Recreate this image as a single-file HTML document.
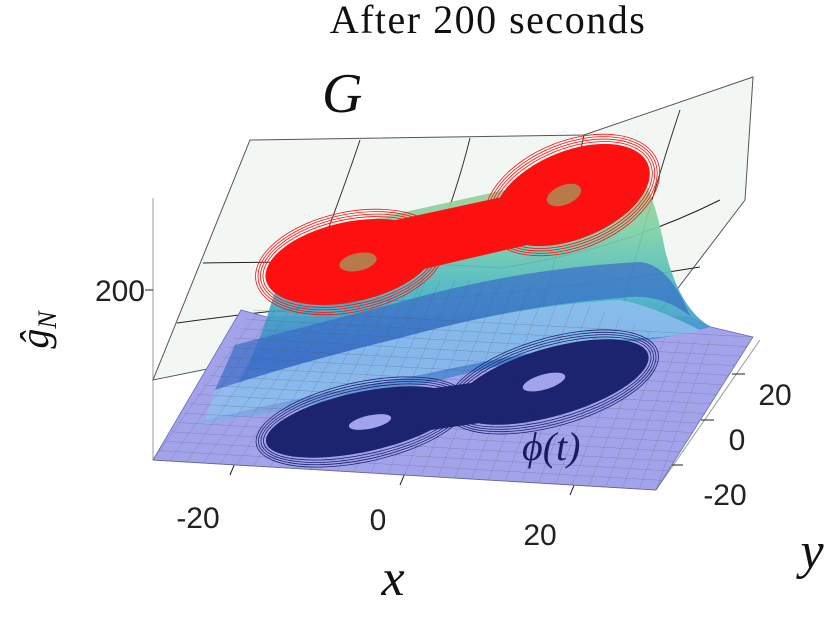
<!DOCTYPE html>
<html><head><meta charset="utf-8">
<style>
html,body{margin:0;padding:0;background:#fff;}
svg{display:block;}
.tick{font-family:"Liberation Sans",sans-serif;font-size:30px;fill:#222;}
.ser{font-family:"Liberation Serif",serif;}
</style></head>
<body>
<svg id="chart" width="830" height="623" viewBox="0 0 830 623">
<defs>
<linearGradient id="hump" x1="0" y1="0" x2="0" y2="1">
<stop offset="0" stop-color="#b5c98a"/>
<stop offset="0.25" stop-color="#7fd2a6"/>
<stop offset="0.5" stop-color="#45b4c4"/>
<stop offset="0.75" stop-color="#3f7fd0"/>
<stop offset="1" stop-color="#8fb0ea"/>
</linearGradient>
</defs>
<text x="488" y="33" text-anchor="middle" class="ser" font-size="40" letter-spacing="1.5" fill="#111">After 200 seconds</text>
<text x="322" y="112" class="ser" font-style="italic" font-size="56" fill="#111">G</text>

<g stroke="#999" stroke-width="1" fill="none">
<line x1="153" y1="198" x2="153" y2="460"/>
<line x1="153" y1="460" x2="656" y2="490"/>
<line x1="656" y1="490" x2="760" y2="340"/>
<line x1="153" y1="290" x2="145" y2="290" stroke="#222"/>
<line x1="230" y1="475" x2="235" y2="463" stroke="#222"/>
<line x1="400" y1="485" x2="405" y2="473" stroke="#222"/>
<line x1="570" y1="495" x2="575" y2="483" stroke="#222"/>
<line x1="732" y1="374" x2="745" y2="374" stroke="#222"/>
<line x1="701" y1="420" x2="714" y2="420" stroke="#222"/>
<line x1="670" y1="465" x2="683" y2="465" stroke="#222"/>
</g>

<g>
<path d="M250,140 L584,135 L753,77 L745,200 L656,317 L400,330 L153,380 Z" fill="#f3f7f3" stroke="#555" stroke-width="1"/>
<path d="M203,263 Q400,260 500,268 Q620,250 720,200" fill="none" stroke="#222" stroke-width="1"/>
<path d="M177,323 Q350,300 420,300 Q560,290 700,267" fill="none" stroke="#222" stroke-width="1"/>
<path d="M360,140 Q340,200 290,330" fill="none" stroke="#333"/>
<path d="M470,138 Q450,220 400,330" fill="none" stroke="#333"/>
<path d="M584,135 Q570,200 540,320" fill="none" stroke="#333"/>
<path d="M680,110 Q650,200 620,318" fill="none" stroke="#333"/>
</g>

<path d="M153,460 L241,310 L267,317 L690,317 L711,327 L753,337 L656,490 Z" fill="#a3a3ec" stroke="#6a6ab0" stroke-width="0.8"/>
<path d="M195,425 Q240,400 267,317 Q290,240 309,233 Q460,200 626,163 Q650,170 665,250 Q680,310 711,327 Q660,340 640,340 Q560,350 420,385 Q300,410 195,425 Z" fill="url(#hump)" opacity="0.92"/>
<path d="M205,420 Q300,397 420,375 Q560,345 640,338 Q670,338 700,330 Q650,305 620,300 Q520,305 400,338 Q300,362 215,390 Z" fill="#90c0f0" opacity="0.85"/>
<path d="M215,390 Q300,362 400,338 Q520,305 620,298 Q660,292 690,316 Q670,265 640,262 Q520,268 400,302 Q300,328 235,345 Z" fill="#3a6cc8" opacity="0.7"/>

<g id="mesh" stroke="#555" stroke-width="0.4" opacity="0.5" fill="none"></g>

<g id="navy"></g>
<g id="red"></g>

<text x="522" y="460" class="ser" font-style="italic" font-size="40" fill="#1a1a5e">ϕ(t)</text>

<text x="145" y="301" text-anchor="end" class="tick">200</text>
<text x="48" y="330" class="ser" font-style="italic" font-size="40" fill="#111" transform="rotate(-90 48 330)" text-anchor="middle">ĝ<tspan font-size="26" dy="8">N</tspan></text>
<g id="xticks"></g>
<g id="yticks"></g>
<text x="393" y="595" text-anchor="middle" class="ser" font-style="italic" font-size="52" fill="#111">x</text>
<text x="812" y="568" text-anchor="middle" class="ser" font-style="italic" font-size="52" fill="#111">y</text>
</svg>
<script>
const xTickLabels = ["-20","0","20"];
const xTickPos = [[198,528],[378,530],[540,545]];
const yTickLabels = ["20","0","-20"];
const yTickPos = [[775,405],[737,450],[725,505]];
const redLobeCx = [350, 572];
const redLobeCy = [262, 195];
const redLobeRx = [86, 82];
const redLobeRy = [40, 44];
const redTilt = [-12, -22];
const navyLobeCx = [362, 552];
const navyLobeCy = [422, 382];
const navyLobeRx = [98, 100];
const navyLobeRy = [30, 34];
const navyTilt = [-12, -16];
const ns = "http://www.w3.org/2000/svg";

function drawTicks(gid, labels, pos, nm){
  const g = document.getElementById(gid);
  for(let i=0;i<labels.length;i++){
    const t = document.createElementNS(ns,'text');
    t.setAttribute('x',pos[i][0]); t.setAttribute('y',pos[i][1]);
    t.setAttribute('class','tick'); t.setAttribute('text-anchor','middle');
    t.textContent = labels[i];
    
    
    g.appendChild(t);
  }
}
drawTicks('xticks', xTickLabels, xTickPos, 'x');
drawTicks('yticks', yTickLabels, yTickPos, 'y');

function ell(g, cx, cy, rx, ry, tilt, fill, stroke, sw){
  const e = document.createElementNS(ns,'ellipse');
  e.setAttribute('cx',cx); e.setAttribute('cy',cy);
  e.setAttribute('rx',rx); e.setAttribute('ry',ry);
  e.setAttribute('transform','rotate('+tilt+' '+cx+' '+cy+')');
  e.setAttribute('fill',fill);
  e.setAttribute('stroke',stroke); e.setAttribute('stroke-width',sw);
  g.appendChild(e);
  return e;
}
function drawAttractor(gid, cx, cy, rx, ry, tilt, color, holeColor){
  const g = document.getElementById(gid);
  for(let i=0;i<cx.length;i++){
    for(let k=1;k<=4;k++){
      const o = ell(g,cx[i],cy[i],rx[i]+k*2.5,ry[i]+k*2.5,tilt[i],'none',color,0.8);
      
      
    }
    const e = ell(g,cx[i],cy[i],rx[i],ry[i],tilt[i],color,'none',0);
    
    
  }
  const b = document.createElementNS(ns,'path');
  b.setAttribute('d','M'+cx[0]+','+(cy[0]-ry[0]*0.8)+' L'+cx[1]+','+(cy[1]-ry[1]*0.3)+' L'+cx[1]+','+(cy[1]+ry[1]*0.9)+' L'+cx[0]+','+(cy[0]+ry[0]*0.6)+' Z');
  b.setAttribute('fill',color);
  
  
  g.appendChild(b);
  for(let i=0;i<cx.length;i++){
    const h = ell(g,cx[i]+(i?-8:8),cy[i],rx[i]*0.22,ry[i]*0.22,tilt[i],holeColor,'none',0);
    
    
  }
}
drawAttractor('navy', navyLobeCx, navyLobeCy, navyLobeRx, navyLobeRy, navyTilt, '#1c2470', '#a3a3ec');
drawAttractor('red', redLobeCx, redLobeCy, redLobeRx, redLobeRy, redTilt, '#ff1010', '#b87a4a');

const mesh = document.getElementById('mesh');
for(let i=0;i<=30;i++){
  const t=i/30;
  const l = document.createElementNS(ns,'line');
  l.setAttribute('x1',153+t*503); l.setAttribute('y1',460+t*30);
  l.setAttribute('x2',260+t*450); l.setAttribute('y2',(t<0.1?310:300-60*Math.sin(Math.PI*Math.min(1,t*1.1))+40));
  mesh.appendChild(l);
}
for(let j=0;j<=16;j++){
  const t=j/16;
  const l = document.createElementNS(ns,'line');
  l.setAttribute('x1',153+t*100); l.setAttribute('y1',460-t*150);
  l.setAttribute('x2',656+t*97); l.setAttribute('y2',490-t*153);
  mesh.appendChild(l);
}
</script>
</body></html>
